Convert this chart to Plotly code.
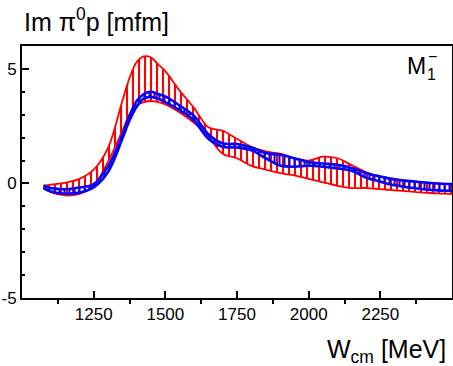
import plotly.graph_objects as go

W = [1075, 1100, 1150, 1200, 1250, 1300, 1350, 1375, 1400, 1425, 1450, 1475, 1500,
     1550, 1600, 1650, 1700, 1750, 1800, 1850, 1900, 1950, 2000, 2050, 2100, 2150,
     2200, 2250, 2300, 2350, 2400, 2450, 2500]

red_upper = [-0.1, -0.05, 0.03, 0.2, 0.6, 1.55, 3.6, 4.6, 5.3, 5.55, 5.5, 5.2, 4.9,
             4.05, 3.3, 2.45, 2.3, 1.95, 1.6, 1.4, 1.3, 1.1, 1.0, 1.17, 1.1, 0.8,
             0.5, 0.3, 0.2, 0.12, 0.04, 0.0, -0.03]
red_lower = [-0.2, -0.38, -0.52, -0.46, -0.1, 0.95, 2.3, 3.0, 3.4, 3.55, 3.6, 3.55, 3.45,
             3.1, 2.65, 2.05, 1.3, 1.1, 0.77, 0.6, 0.45, 0.35, 0.2, 0.05, -0.1, -0.2,
             -0.2, -0.25, -0.3, -0.35, -0.4, -0.43, -0.47]
blue_upper = [-0.1, -0.2, -0.25, -0.18, -0.03, 0.75, 2.1, 2.95, 3.6, 3.9, 4.0, 3.9, 3.8,
              3.4, 2.95, 2.15, 1.75, 1.72, 1.57, 1.33, 1.25, 1.1, 0.93, 0.87, 0.82, 0.68,
              0.45, 0.3, 0.17, 0.1, 0.05, 0.0, -0.03]
blue_lower = [-0.2, -0.35, -0.45, -0.4, -0.17, 0.5, 1.95, 2.75, 3.35, 3.7, 3.78, 3.7, 3.55,
              3.2, 2.75, 1.95, 1.6, 1.57, 1.45, 1.1, 0.78, 0.73, 0.77, 0.73, 0.65, 0.55,
              0.25, 0.08, -0.08, -0.18, -0.25, -0.3, -0.32]

x_major = [1250, 1500, 1750, 2000, 2250]
x_major_labels = ["1250", "1500", "1750", "2000", "2250"]
x_minor = [1125, 1375, 1625, 1875, 2125, 2375]
y_major = [-5, 0, 5]
y_major_labels = ["-5", "0", "5"]
y_minor = [-4, -3, -2, -1, 1, 2, 3, 4]

FONT = "Liberation Sans, Arial, sans-serif"

fig = go.Figure()

def band(lower, upper, color, width, size, solidity):
    fig.add_trace(go.Scatter(x=W, y=lower, mode="lines",
                             line=dict(color=color, width=width, shape="spline", smoothing=1.0),
                             hoverinfo="skip", showlegend=False))
    fig.add_trace(go.Scatter(x=W, y=upper, mode="lines", fill="tonexty",
                             fillcolor="rgba(0,0,0,0)",
                             fillpattern=dict(shape="|", size=size, solidity=solidity,
                                              fgcolor=color, fgopacity=1,
                                              bgcolor="rgba(0,0,0,0)",
                                              fillmode="overlay"),
                             line=dict(color=color, width=width, shape="spline", smoothing=1.0),
                             hoverinfo="skip", showlegend=False))

band(red_lower, red_upper, "#ff0000", 1.8, 6, 0.35)
band(blue_lower, blue_upper, "#0000ff", 2.6, 5, 0.4)

fig.update_layout(
    width=453, height=366,
    margin=dict(l=22, r=1, t=46, b=68, autoexpand=False),
    plot_bgcolor="white", paper_bgcolor="white",
    font=dict(family=FONT, color="black", size=17),
    showlegend=False,
    xaxis=dict(range=[1000, 2500], showgrid=False, zeroline=False,
               showline=True, linecolor="black", linewidth=2, mirror=True,
               ticks="inside", ticklen=7, tickwidth=2, tickcolor="black",
               tickvals=x_major, ticktext=x_major_labels,
               tickfont=dict(family=FONT, size=17), automargin=False,
               minor=dict(tickvals=x_minor, ticks="outside", ticklen=4, tickwidth=2,
                          tickcolor="black", showgrid=False)),
    yaxis=dict(range=[-5, 6], showgrid=False, zeroline=False,
               showline=True, linecolor="black", linewidth=2, mirror=True,
               ticks="inside", ticklen=7, tickwidth=2, tickcolor="black",
               tickvals=y_major, ticktext=y_major_labels,
               tickfont=dict(family=FONT, size=17), automargin=False,
               minor=dict(tickvals=y_minor, ticks="inside", ticklen=3, tickwidth=2,
                          tickcolor="black", showgrid=False)),
)

fig.add_annotation(text="Im π<sup>0</sup>p [mfm]", xref="paper", yref="paper",
                   x=0.0, y=1.104, xanchor="left", yanchor="middle", showarrow=False,
                   font=dict(family=FONT, size=25))
fig.add_annotation(text="W<sub>cm</sub> [MeV]", xref="paper", yref="paper",
                   x=0.9907, y=-0.2085, xanchor="right", yanchor="middle", showarrow=False,
                   font=dict(family=FONT, size=25))
fig.add_annotation(text="M", xref="paper", yref="paper",
                   x=0.918, y=0.919, xanchor="center", yanchor="middle", showarrow=False,
                   font=dict(family=FONT, size=23))
fig.add_annotation(text="1", xref="paper", yref="paper",
                   x=0.9524, y=0.8876, xanchor="center", yanchor="middle", showarrow=False,
                   font=dict(family=FONT, size=16))
fig.add_annotation(text="−", xref="paper", yref="paper",
                   x=0.9547, y=0.957, xanchor="center", yanchor="middle", showarrow=False,
                   font=dict(family=FONT, size=16))

fig.write_html("out.html", config={"displayModeBar": False},
               post_script="document.body.style.margin='0';document.body.style.padding='0';")
